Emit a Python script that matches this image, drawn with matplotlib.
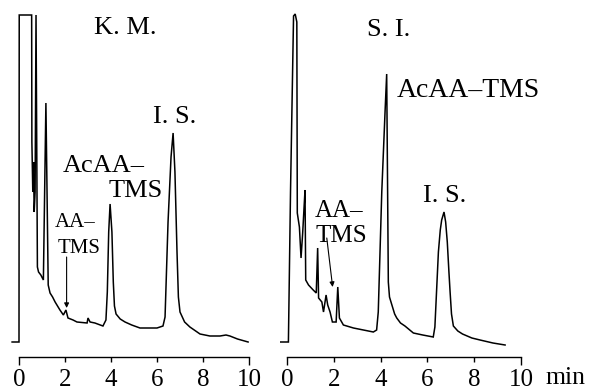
import matplotlib.pyplot as plt
import numpy as np

plt.rcParams['font.family'] = ['Liberation Serif', 'DejaVu Serif']

# K. M. trace: retention time (min) and detector response (arbitrary units)
km_time = [-0.30, 0.00, 0.01, 0.55, 0.56, 0.60, 0.63, 0.66, 0.70, 0.74, 0.80,
           0.85, 0.95, 1.06, 1.17, 1.27, 1.35, 1.46, 1.57, 1.78, 1.93, 2.04,
           2.13, 2.35, 2.52, 2.96, 3.00, 3.09, 3.30, 3.65, 3.78, 3.84, 3.90,
           3.96, 4.04, 4.10, 4.15, 4.22, 4.40, 4.61, 4.90, 5.26, 5.70, 6.00,
           6.26, 6.35, 6.48, 6.61, 6.70, 6.78, 6.87, 6.93, 7.00, 7.20, 7.43,
           7.87, 8.30, 8.74, 9.00, 9.17, 9.50, 9.96]
km_signal = [0, 0, 327, 327, 200, 150, 180, 130, 150, 327, 75,
             70, 67, 62, 239, 57, 49, 45, 40, 32, 27, 32,
             24, 22, 20, 19, 24, 20, 19, 16, 22, 50, 110,
             138, 110, 60, 36, 28, 23, 20, 17, 14, 14, 14,
             16, 25, 120, 185, 209, 170, 90, 45, 30, 20, 15,
             8, 6, 6, 7, 6, 3, 0]

# S. I. trace
si_time = [-0.30, 0.00, 0.06, 0.15, 0.28, 0.35, 0.42, 0.44, 0.53, 0.60, 0.67,
           0.73, 0.77, 0.80, 0.92, 1.12, 1.25, 1.31, 1.35, 1.49, 1.56, 1.67,
           1.74, 1.84, 1.94, 2.10, 2.17, 2.24, 2.41, 2.84, 3.69, 3.83, 3.90,
           4.05, 4.19, 4.26, 4.30, 4.33, 4.38, 4.47, 4.60, 4.69, 4.85, 5.04,
           5.40, 5.80, 6.25, 6.32, 6.40, 6.47, 6.55, 6.61, 6.71, 6.78, 6.85,
           6.92, 6.97, 7.03, 7.11, 7.30, 7.50, 7.90, 8.25, 8.80, 9.32]
si_signal = [0, 0, 0, 150, 326, 328, 320, 129, 115, 84, 109,
             135, 152, 62, 57, 52, 49, 94, 44, 40, 30, 47,
             37, 30, 20, 20, 55, 24, 17, 14, 10, 12, 30,
             150, 230, 268, 150, 60, 45, 38, 28, 24, 19, 16,
             9, 7, 5, 15, 55, 90, 112, 122, 130, 120, 100,
             70, 50, 28, 16, 11, 8, 4, 2, -1, -3]

ticks = [0, 2, 4, 6, 8, 10]

W, H = 589, 392
fig = plt.figure(figsize=(W / 100, H / 100), dpi=100)


def make_axes(left_px, right_px, zero_px, px_per_min):
    ax = fig.add_axes([left_px / W, 0, (right_px - left_px) / W, 1])
    ax.set_xlim((left_px - zero_px) / px_per_min, (right_px - zero_px) / px_per_min)
    ax.set_ylim(-50, 342)
    for side in ['left', 'right', 'top']:
        ax.spines[side].set_visible(False)
    ax.spines['bottom'].set_position(('data', -15))
    ax.spines['bottom'].set_bounds(0, 10)
    ax.spines['bottom'].set_linewidth(1.0)
    ax.set_yticks([])
    ax.set_xticks(ticks)
    ax.set_xticklabels([str(t) for t in ticks])
    ax.tick_params(axis='x', direction='out', length=3.5, width=1.0,
                   pad=5, labelsize=18)
    for i in (0, -1):
        ax.xaxis.get_major_ticks()[i].tick1line.set_markersize(5.5)
    ax.patch.set_visible(False)
    return ax


ax1 = make_axes(0, 280, 19, 23.0)
ax2 = make_axes(280, 589, 287, 23.4)

ax1.plot(km_time, km_signal, color='black', lw=1.1, solid_joinstyle='miter')
ax2.plot(si_time, si_signal, color='black', lw=1.1, solid_joinstyle='miter')

lab = dict(fontsize=19, va='baseline')

# left panel labels
ax1.text(4.61, 308, 'K. M.', ha='center', **lab)
ax1.text(6.78, 219, 'I. S.', ha='center', **lab)
ax1.text(1.91, 170, 'AcAA–', ha='left', **lab)
ax1.text(6.26, 145, 'TMS', ha='right', **lab)
ax1.text(1.57, 115, 'AA–', ha='left', fontsize=15, va='baseline')
ax1.text(1.70, 89, 'TMS', ha='left', fontsize=15, va='baseline')
ax1.annotate('', xy=(2.07, 34), xytext=(2.07, 85),
             arrowprops=dict(arrowstyle='-|>', color='black', lw=0.8,
                             mutation_scale=7, shrinkA=0, shrinkB=0))

# right panel labels
ax2.text(4.36, 306, 'S. I.', ha='center', **lab)
ax2.text(4.70, 245, 'AcAA–TMS', ha='left', fontsize=20, va='baseline')
ax2.text(6.75, 140, 'I. S.', ha='center', **lab)
ax2.text(1.20, 125, 'AA–', ha='left', fontsize=18, va='baseline')
ax2.text(1.20, 100, 'TMS', ha='left', fontsize=18, va='baseline')
ax2.annotate('', xy=(1.95, 55), xytext=(1.70, 104),
             arrowprops=dict(arrowstyle='-|>', color='black', lw=0.8,
                             mutation_scale=7, shrinkA=0, shrinkB=0))

fig.text(565 / W, 1 - 378 / H, 'min', ha='center', va='center', fontsize=18.5)

fig.savefig('out.png', dpi=100)
